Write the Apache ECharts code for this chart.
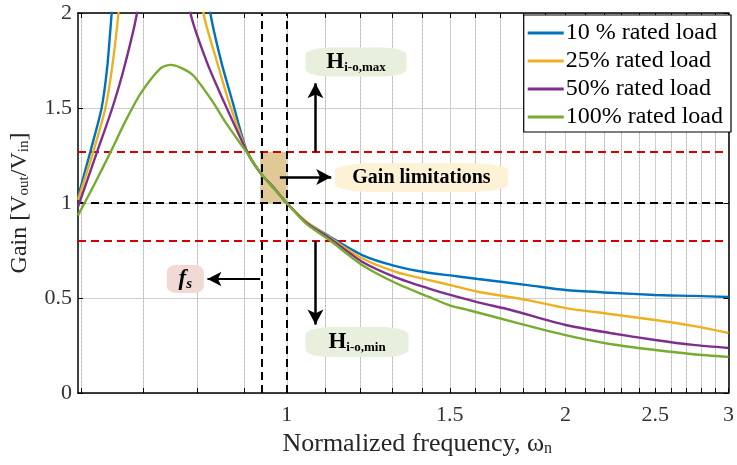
<!DOCTYPE html>
<html>
<head>
<meta charset="utf-8">
<script src="https://cdn.jsdelivr.net/npm/echarts@6/dist/echarts.min.js"></script>
<style>html,body{margin:0;padding:0;background:#fff}#c{width:737px;height:465px}</style>
</head>
<body>
<div id="c"></div>
<script>
// ---- data ----
const seriesNames = ['10 % rated load', '25% rated load', '50% rated load', '100% rated load'];
const freq10 = [0.595,0.6135,0.631,0.640,0.647,0.66,0.73,0.80,0.827,0.85,0.873,0.906,0.936,0.97,1.0,1.05,1.112,1.206,1.311,1.422,1.502,1.609,1.82,2.0,2.234,2.5,2.748,3.0];
const gain10 = [1.03,1.27,1.5,1.72,2.0,2.5,4.0,2.6,2.0,1.74,1.54,1.27,1.16,1.075,1.0,0.9,0.824,0.726,0.668,0.633,0.619,0.60,0.568,0.542,0.528,0.516,0.511,0.505];
const freq25 = [0.595,0.618,0.637,0.648,0.658,0.672,0.73,0.79,0.813,0.84,0.865,0.906,0.936,0.97,1.0,1.05,1.112,1.206,1.311,1.422,1.502,1.609,1.82,2.0,2.234,2.5,2.748,3.0];
const gain25 = [1.016,1.27,1.5,1.72,2.0,2.5,3.6,2.6,2.0,1.75,1.54,1.27,1.16,1.075,1.0,0.9,0.82,0.709,0.638,0.595,0.568,0.533,0.489,0.447,0.416,0.384,0.353,0.316];
const freq50 = [0.595,0.624,0.648,0.668,0.689,0.705,0.74,0.77,0.787,0.82,0.854,0.906,0.936,0.97,1.0,1.05,1.112,1.206,1.311,1.422,1.502,1.609,1.746,2.0,2.234,2.5,2.748,3.0];
const gain50 = [0.98,1.27,1.5,1.72,2.0,2.4,2.9,2.4,2.0,1.74,1.54,1.27,1.16,1.075,1.0,0.895,0.815,0.691,0.609,0.551,0.516,0.477,0.437,0.358,0.316,0.279,0.253,0.237];
const freq100 = [0.595,0.62,0.6455,0.671,0.696,0.731,0.749,0.77,0.793,0.83,0.86,0.895,0.906,0.936,0.97,1.0,1.05,1.112,1.206,1.311,1.422,1.502,1.57,1.776,2.0,2.234,2.5,2.748,3.0];
const gain100 = [0.935,1.1,1.27,1.44,1.58,1.71,1.727,1.71,1.67,1.54,1.42,1.30,1.265,1.16,1.072,1.0,0.89,0.805,0.674,0.579,0.507,0.46,0.437,0.368,0.305,0.258,0.226,0.204,0.19];

const xMajorTicks = [1, 1.5, 2, 2.5, 3];
const xMinorTicks = [0.6,0.7,0.8,0.9,1.1,1.2,1.3,1.4,1.6,1.7,1.8,1.9,2.1,2.2,2.3,2.4,2.6,2.7,2.8,2.9];

// annotation values
const gainLimitHigh = 1.27, gainLimitLow = 0.8, unityGain = 1;
const fsFreq = 0.936, resFreq = 1;

const colors = ['#0072BD', '#EDB120', '#7E2F8E', '#77AC30'];
const serif = '"Liberation Serif", "Times New Roman", serif';

function pairs(xs, ys) { return xs.map((x, i) => [x, ys[i]]); }
const allData = [pairs(freq10, gain10), pairs(freq25, gain25), pairs(freq50, gain50), pairs(freq100, gain100)];
const allTicks = xMinorTicks.concat(xMajorTicks).sort((a,b)=>a-b);

const chart = echarts.init(document.getElementById('c'), null, {renderer: 'canvas'});

const lineSeries = allData.map((d, i) => ({
  name: seriesNames[i], type: 'line', data: d, smooth: 0.25, symbol: 'none',
  clip: true, z: 5,
  lineStyle: {color: colors[i], width: 2.4}, itemStyle: {color: colors[i]}
}));

const blackDash = {color: '#000', type: [8, 5], width: 2};
const redDash = {color: '#d40000', type: [8, 5], width: 1.8};
const arrowStyle = {color: '#000', type: 'solid', width: 2.5};
const subRich = (big, small, italic) => ({
  h: {fontSize: big, fontWeight: 'bold', fontStyle: italic ? 'italic' : 'normal', fontFamily: serif, lineHeight: big + 2, color: '#000'},
  s: {fontSize: small, fontWeight: 'bold', fontStyle: italic ? 'italic' : 'normal', fontFamily: serif, lineHeight: small, verticalAlign: 'bottom', color: '#000'}
});

const annot = {
  name: 'annot', type: 'line', data: [], z: 3,
  markArea: {
    silent: true,
    itemStyle: {color: 'rgba(214,183,115,0.75)'},
    data: [[{coord: [fsFreq, unityGain]}, {coord: [resFreq, gainLimitHigh]}]]
  },
  markLine: {
    silent: true, symbol: 'none', animation: false,
    label: {show: false},
    data: [
      {yAxis: gainLimitHigh, lineStyle: redDash},
      {yAxis: gainLimitLow, lineStyle: redDash},
      {yAxis: unityGain, lineStyle: blackDash},
      {xAxis: fsFreq, lineStyle: blackDash},
      {xAxis: resFreq, lineStyle: blackDash},
      [{coord: [1.074, gainLimitHigh], symbol: 'none', lineStyle: arrowStyle}, {coord: [1.074, 1.63], symbol: 'arrow', symbolSize: [12, 15]}],
      [{coord: [1.074, gainLimitLow], symbol: 'none', lineStyle: arrowStyle}, {coord: [1.074, 0.36], symbol: 'arrow', symbolSize: [12, 15]}],
      [{coord: [0.983, 1.137], symbol: 'none', lineStyle: arrowStyle}, {coord: [1.117, 1.137], symbol: 'arrow', symbolSize: [12, 15]}],
      [{coord: [fsFreq, 0.6], symbol: 'none', lineStyle: {color: '#000', type: 'solid', width: 2}}, {coord: [0.821, 0.6], symbol: 'arrow', symbolSize: [11, 14]}]
    ]
  },
  markPoint: {
    silent: true, animation: false, symbol: 'roundRect',
    label: {show: true, position: 'inside', color: '#000', fontFamily: serif, fontWeight: 'bold'},
    data: [
      {coord: [1.188, 1.742], symbolSize: [101, 29], itemStyle: {color: '#e8efdd'},
       label: {formatter: '{h|H}{s|i-o,max}', rich: subRich(23, 13, false)}},
      {coord: [1.191, 0.268], symbolSize: [103, 30], itemStyle: {color: '#e8efdd'},
       label: {formatter: '{h|H}{s|i-o,min}', rich: subRich(23, 13, false)}},
      {coord: [1.398, 1.134], symbolSize: [173, 29], itemStyle: {color: '#fdf2d6'},
       label: {formatter: 'Gain limitations', fontSize: 20, fontWeight: 'bold'}},
      {coord: [0.777, 0.6], symbolSize: [37, 28], itemStyle: {color: '#f1d9d6'},
       label: {formatter: '{h|f}{s|s}', rich: subRich(23, 15, true)}}
    ]
  }
};

const option = {
  backgroundColor: '#fff',
  animation: false,
  grid: {left: 77, right: 3, top: 13, bottom: 72, containLabel: false},
  legend: {
    data: seriesNames, orient: 'vertical', top: 15, right: 6,
    backgroundColor: '#fff', borderColor: '#000', borderWidth: 1.2, borderRadius: 0,
    padding: [6, 8, 3, 4], itemGap: 4, itemWidth: 36, itemHeight: 3, icon: 'rect',
    textStyle: {fontFamily: serif, fontSize: 24, color: '#000', lineHeight: 24, padding: [0, 0, 0, -3]}
  },
  xAxis: [
    {
      type: 'log', logBase: 10, min: 0.595, max: 3, position: 'bottom',
      name: 'Normalized frequency, ω{sub|n}', nameLocation: 'middle', nameGap: 36,
      nameTextStyle: {fontFamily: serif, fontSize: 26, color: '#262626', padding: [0, 0, 0, 28],
        rich: {sub: {fontSize: 16, fontFamily: serif, color: '#262626', verticalAlign: 'bottom', lineHeight: 16}}},
      axisLine: {show: true, onZero: false, lineStyle: {color: '#000', width: 1.5}},
      axisTick: {show: true, inside: true, length: 5, customValues: allTicks, lineStyle: {color: '#000'}},
      axisLabel: {customValues: xMajorTicks, fontFamily: serif, fontSize: 22, color: '#333', margin: 11, formatter: v => String(+v.toFixed(2))},
      splitLine: {show: true, lineStyle: {color: '#cfcfcf', width: 1}},
      minorTick: {show: false}
    },
    {
      type: 'log', logBase: 10, min: 0.595, max: 3, position: 'top',
      axisLine: {show: true, onZero: false, lineStyle: {color: '#000', width: 1.5}},
      axisTick: {show: true, inside: true, length: 5, customValues: allTicks, lineStyle: {color: '#000'}},
      axisLabel: {show: false},
      splitLine: {show: false}
    },
    {
      type: 'log', logBase: 10, min: 0.595, max: 3, position: 'bottom', show: true,
      axisLine: {show: false}, axisTick: {show: false, customValues: xMinorTicks}, axisLabel: {show: false},
      splitLine: {show: true, lineStyle: {color: '#bcbcbc', type: [1.5, 2.5], width: 1}}
    }
  ],
  yAxis: [
    {
      type: 'value', min: 0, max: 2, interval: 0.5, position: 'left',
      name: 'Gain [V{sub|out}/V{sub|in}]', nameLocation: 'middle', nameGap: 46, nameRotate: 90,
      nameTextStyle: {fontFamily: serif, fontSize: 24, color: '#262626',
        rich: {sub: {fontSize: 15, fontFamily: serif, color: '#262626', verticalAlign: 'bottom', lineHeight: 15}}},
      axisLine: {show: true, onZero: false, lineStyle: {color: '#000', width: 1.5}},
      axisTick: {show: true, inside: true, length: 5, lineStyle: {color: '#000'}},
      axisLabel: {fontFamily: serif, fontSize: 22, color: '#333', margin: 6},
      splitLine: {show: true, lineStyle: {color: '#cfcfcf', width: 1}}
    },
    {
      type: 'value', min: 0, max: 2, interval: 0.5, position: 'right',
      axisLine: {show: true, onZero: false, lineStyle: {color: '#000', width: 1.5}},
      axisTick: {show: true, inside: true, length: 5, lineStyle: {color: '#000'}},
      axisLabel: {show: false}, splitLine: {show: false}
    }
  ],
  series: [annot].concat(lineSeries)
};
chart.setOption(option);
</script>
</body>
</html>
